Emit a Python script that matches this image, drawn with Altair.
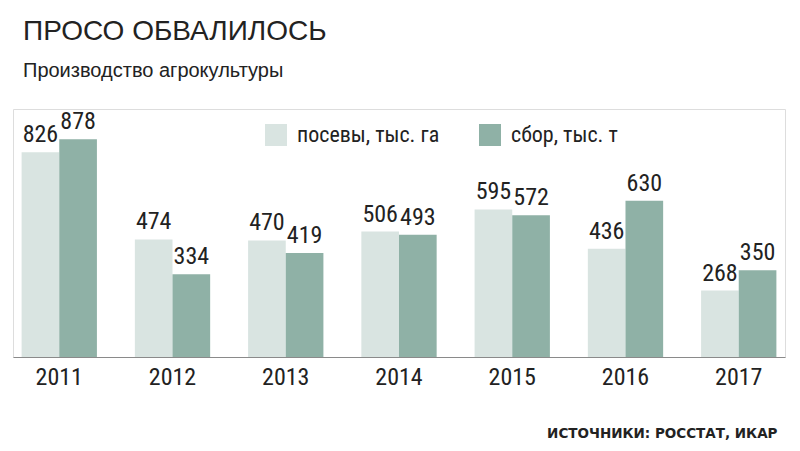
import altair as alt
import pandas as pd

years = ["2011", "2012", "2013", "2014", "2015", "2016", "2017"]
sown = [826, 474, 470, 506, 595, 436, 268]
harvest = [878, 334, 419, 493, 572, 630, 350]
series_names = ["посевы, тыс. га", "сбор, тыс. т"]
colors = ["#d9e4e1", "#8fb1a6"]

rows = []
for y, a, b in zip(years, sown, harvest):
    rows.append({"year": y, "series": series_names[0], "value": a})
    rows.append({"year": y, "series": series_names[1], "value": b})
df = pd.DataFrame(rows)

FONT = "Liberation Sans Narrow, Roboto Condensed, DejaVu Sans Condensed, sans-serif"
WIDE = "Liberation Sans, Arial, sans-serif"
TXT = "#222222"

x_enc = alt.X(
    "year:N",
    sort=years,
    scale=alt.Scale(paddingInner=0.335, paddingOuter=0.076),
    axis=alt.Axis(
        title="ИСТОЧНИКИ: РОССТАТ, ИКАР",
        titleFont="DejaVu Sans, sans-serif",
        titleFontSize=13.5,
        titleFontWeight="bold",
        titleColor=TXT,
        titleAlign="right",
        titleBaseline="alphabetic",
        titleX=764,
        titleY=80,
        labelAngle=0,
        labelFont=FONT,
        labelFontSize=24,
        labelColor=TXT,
        labelPadding=8,
        ticks=False,
        domainColor="#8a8a8a",
        domainWidth=1,
        grid=False,
    ),
)
xoff = alt.XOffset("series:N", sort=series_names, scale=alt.Scale(paddingInner=0, paddingOuter=0))
y_enc = alt.Y("value:Q", scale=alt.Scale(domain=[0, 1000]), axis=None)

bars = alt.Chart(df).mark_bar().encode(
    x=x_enc,
    xOffset=xoff,
    y=y_enc,
    color=alt.Color(
        "series:N",
        sort=series_names,
        scale=alt.Scale(domain=series_names, range=colors),
        legend=alt.Legend(
            title=None,
            orient="none",
            legendX=252,
            legendY=15,
            direction="horizontal",
            symbolType="square",
            symbolSize=484,
            symbolStrokeWidth=0,
            symbolOpacity=1,
            labelFont=FONT,
            labelFontSize=22,
            labelColor=TXT,
            labelOffset=10,
            columnPadding=39,
            padding=0,
        ),
    ),
)

labels = alt.Chart(df).mark_text(
    baseline="alphabetic", dy=-10, font=FONT, fontSize=24, color=TXT
).encode(
    x=alt.X("year:N", sort=years),
    xOffset=alt.XOffset("series:N", sort=series_names),
    y=alt.Y("value:Q"),
    text=alt.Text("value:Q"),
)

chart = (
    alt.layer(bars, labels)
    .properties(
        width=772,
        height=248,
        autosize=alt.AutoSizeParams(type="none"),
        padding={"left": 13, "top": 109, "right": 15, "bottom": 94},
        title=alt.TitleParams(
            text="ПРОСО ОБВАЛИЛОСЬ",
            subtitle="Производство агрокультуры",
            anchor="start",
            frame="group",
            dx=10,
            font=WIDE,
            fontSize=28,
            fontWeight="normal",
            color=TXT,
            subtitleFont=WIDE,
            subtitleFontSize=20,
            subtitleColor=TXT,
            subtitlePadding=15,
            offset=28,
        ),
    )
    .configure_view(stroke=None)
    .configure(background="white")
)

chart.save("out.html", embed_options={"renderer": "svg", "actions": False})
